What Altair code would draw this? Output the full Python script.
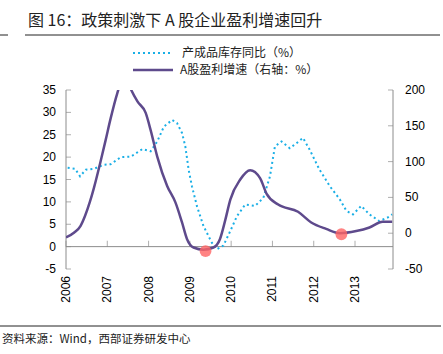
import altair as alt
import pandas as pd

# ---- data ----
inv_x = [2006.04, 2006.22, 2006.34, 2006.48, 2006.68, 2006.92, 2007.08, 2007.33, 2007.57, 2007.85,
         2008.05, 2008.21, 2008.37, 2008.57, 2008.69, 2008.81, 2008.89, 2008.97, 2009.05, 2009.17,
         2009.33, 2009.53, 2009.65, 2009.81, 2009.98, 2010.14, 2010.34, 2010.58, 2010.78, 2010.94,
         2011.06, 2011.22, 2011.42, 2011.58, 2011.74, 2011.90, 2012.14, 2012.39, 2012.63, 2012.79,
         2012.95, 2013.15, 2013.35, 2013.59, 2013.79, 2013.90]
inv_y = [17.6, 17.4, 15.7, 17.2, 17.4, 18.3, 18.4, 20.0, 20.1, 21.8,
         21.3, 23.5, 26.8, 28.3, 27.6, 25.4, 22.4, 17.2, 13.5, 9.1,
         4.6, 0.9, -0.6, 0.2, 3.5, 6.8, 9.4, 9.1, 10.9, 15.7,
         22.4, 23.5, 22.0, 23.1, 24.3, 21.7, 17.2, 13.5, 10.6, 8.0,
         7.2, 9.1, 7.2, 5.7, 6.5, 7.2]

prof_x = [2006.00, 2006.20, 2006.35, 2006.46, 2006.58, 2006.68, 2006.82, 2006.96, 2007.08, 2007.24,
          2007.42, 2007.58, 2007.73, 2007.93, 2008.05, 2008.21, 2008.45, 2008.65, 2008.81, 2008.93,
          2009.09, 2009.33, 2009.57, 2009.73, 2009.86, 2009.98, 2010.22, 2010.46, 2010.70, 2010.86,
          2011.14, 2011.62, 2011.94, 2012.30, 2012.63, 2013.03, 2013.35, 2013.67, 2013.90]
prof_y = [-6, 1, 10, 24, 44, 64, 96, 130, 160, 195,
          222, 200, 184, 168, 144, 107, 66, 43, 15, -8,
          -20, -23, -20, -8, 19, 47, 75, 88, 77, 55,
          40, 30, 15, 6, 0, 3, 8, 16, 16]

mark_x = [2009.38, 2012.67]
mark_y = [-25, -1.5]

years = [2006, 2007, 2008, 2009, 2010, 2011, 2012, 2013]
year_labels = ["2006", "2007", "2008", "2009", "2010", "2011", "2012", "2013"]
left_ticks = [-5, 0, 5, 10, 15, 20, 25, 30, 35]
left_labels = ["-5", "0", "5", "10", "15", "20", "25", "30", "35"]
right_ticks = [-50, 0, 50, 100, 150, 200]
right_labels = ["-50", "0", "50", "100", "150", "200"]

title = "图 16：政策刺激下 A 股企业盈利增速回升"
legend_labels = ["产成品库存同比（%）", "A股盈利增速（右轴：%）"]
source = "资料来源：Wind，西部证券研发中心"

# ---- styling ----
W, H = 327, 179
CYAN = "#1AAFE6"
PURPLE = "#5E4A8C"
GRAY = "#8C8C8C"
NUM_FONT = "Liberation Sans"
CJK = "Noto Sans CJK SC"

xscale = alt.Scale(domain=[2006, 2013.92], nice=False, zero=False)
lscale = alt.Scale(domain=[-5, 35], nice=False, zero=False)
rscale = alt.Scale(domain=[-50, 200], nice=False, zero=False)

inv_df = pd.DataFrame({"x": inv_x, "y": inv_y})
prof_df = pd.DataFrame({"x": prof_x, "y": prof_y})
mark_df = pd.DataFrame({"x": mark_x, "y": mark_y})
yr_df = pd.DataFrame({"x": years, "lab": year_labels, "z": [0] * len(years)})
lt_df = pd.DataFrame({"y": left_ticks, "lab": left_labels})
rt_df = pd.DataFrame({"y": right_ticks, "lab": right_labels})

NOAX = None

# ---------- left-scale group ----------
inv_line = alt.Chart(inv_df).mark_line(
    color=CYAN, strokeWidth=2, strokeDash=[2, 3], clip=True
).encode(
    x=alt.X("x:Q", scale=xscale, axis=NOAX),
    y=alt.Y("y:Q", scale=lscale, axis=NOAX),
)

zero_rule = alt.Chart(yr_df).mark_rule(color=GRAY, strokeWidth=1).encode(
    y=alt.Y("mean(z):Q", scale=lscale, axis=NOAX)
)

x_ticks = alt.Chart(yr_df).mark_tick(orient="vertical", size=6, thickness=1, yOffset=-3, color=GRAY).encode(
    x=alt.X("x:Q", scale=xscale, axis=NOAX),
    y=alt.Y("z:Q", scale=lscale, axis=NOAX),
)

x_labels = alt.Chart(yr_df).mark_text(
    angle=270, align="right", baseline="middle", font=NUM_FONT, fontSize=12, color="#000"
).encode(
    x=alt.X("x:Q", scale=xscale, axis=NOAX),
    y=alt.value(H + 7),
    text="lab:N",
)

l_axis_line = alt.Chart(lt_df).mark_rule(color=GRAY, strokeWidth=1).encode(
    x=alt.value(0), y=alt.Y("min(y):Q", scale=lscale, axis=NOAX), y2="max(y):Q"
)

l_ticks = alt.Chart(lt_df).mark_tick(orient="horizontal", size=5, thickness=1, color=GRAY).encode(
    y=alt.Y("y:Q", scale=lscale, axis=NOAX),
    x=alt.value(2.5),
)

l_labels = alt.Chart(lt_df).mark_text(
    align="right", baseline="middle", font=NUM_FONT, fontSize=12, color="#000"
).encode(
    y=alt.Y("y:Q", scale=lscale, axis=NOAX),
    x=alt.value(-10),
    text="lab:N",
)

left = alt.layer(zero_rule, x_ticks, x_labels, l_axis_line, l_ticks, l_labels, inv_line)

# ---------- right-scale group ----------
prof_line = alt.Chart(prof_df).mark_line(
    color=PURPLE, strokeWidth=2.5, interpolate="monotone", clip=True
).encode(
    x=alt.X("x:Q", scale=xscale, axis=NOAX),
    y=alt.Y("y:Q", scale=rscale, axis=NOAX),
)

r_axis_line = alt.Chart(rt_df).mark_rule(color=GRAY, strokeWidth=1).encode(
    x=alt.value(W), y=alt.Y("min(y):Q", scale=rscale, axis=NOAX), y2="max(y):Q"
)

r_ticks = alt.Chart(rt_df).mark_tick(orient="horizontal", size=5, thickness=1, color=GRAY).encode(
    y=alt.Y("y:Q", scale=rscale, axis=NOAX),
    x=alt.value(W - 2.5),
)

r_labels = alt.Chart(rt_df).mark_text(
    align="left", baseline="middle", font=NUM_FONT, fontSize=12, color="#000"
).encode(
    y=alt.Y("y:Q", scale=rscale, axis=NOAX),
    x=alt.value(W + 12),
    text="lab:N",
)

circles = alt.Chart(mark_df).mark_circle(color="#FF6464", opacity=0.8, size=140).encode(
    x=alt.X("x:Q", scale=xscale, axis=NOAX),
    y=alt.Y("y:Q", scale=rscale, axis=NOAX),
)

right = alt.layer(r_axis_line, r_ticks, r_labels, prof_line, circles)

# ---------- decoration ----------
one = pd.DataFrame({"a": [0]})

title_txt = alt.Chart(one).mark_text(
    align="left", baseline="middle", font=CJK, fontSize=16, color="#222"
).encode(x=alt.value(-38), y=alt.value(-69), text=alt.value(title))

rule_top = alt.Chart(one).mark_rule(color="#222", strokeWidth=1).encode(
    x=alt.value(-41), x2=alt.value(374), y=alt.value(-55))
rule_top_short = alt.Chart(one).mark_rule(color="#222", strokeWidth=1).encode(
    x=alt.value(-66), x2=alt.value(-58), y=alt.value(-55))
rule_bot = alt.Chart(one).mark_rule(color="#222", strokeWidth=1).encode(
    x=alt.value(-66), x2=alt.value(375), y=alt.value(236))

src_txt = alt.Chart(one).mark_text(
    align="left", baseline="middle", font=CJK, fontSize=11.5, color="#222"
).encode(x=alt.value(-64), y=alt.value(250), text=alt.value(source))

leg1_line = alt.Chart(one).mark_rule(color=CYAN, strokeWidth=2, strokeDash=[2, 3]).encode(
    x=alt.value(67), x2=alt.value(107), y=alt.value(-37))
leg2_line = alt.Chart(one).mark_rule(color=PURPLE, strokeWidth=2.5).encode(
    x=alt.value(67), x2=alt.value(107), y=alt.value(-20))
leg1_txt = alt.Chart(one).mark_text(
    align="left", baseline="middle", font=CJK, fontSize=12, color="#222"
).encode(x=alt.value(116), y=alt.value(-37), text=alt.value(legend_labels[0]))
leg2_txt = alt.Chart(one).mark_text(
    align="left", baseline="middle", font=CJK, fontSize=12, color="#222"
).encode(x=alt.value(114), y=alt.value(-20), text=alt.value(legend_labels[1]))

deco = alt.layer(title_txt, rule_top, rule_top_short, rule_bot, src_txt,
                 leg1_line, leg2_line, leg1_txt, leg2_txt)

chart = alt.layer(left, right, deco).resolve_scale(y="independent").properties(
    width=W, height=H,
    padding={"left": 66, "top": 90, "right": 50, "bottom": 85},
    autosize="none",
    background="white",
).configure_view(stroke=None)

chart.save("out.html", embed_options={"renderer": "svg", "actions": False})
